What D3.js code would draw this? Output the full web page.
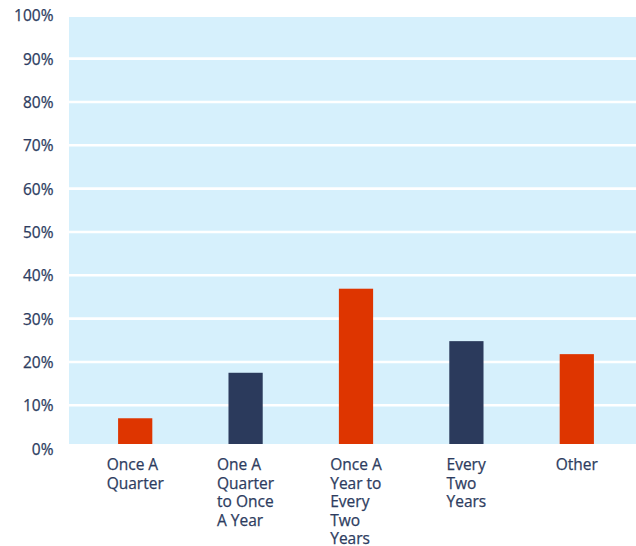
<!DOCTYPE html>
<html>
<head>
<meta charset="utf-8">
<script src="https://cdn.jsdelivr.net/npm/d3@7"></script>
<style>
  html, body { margin: 0; padding: 0; background: #ffffff; }
  svg { display: block; }
  text { font-family: "Open Sans", "Noto Sans", sans-serif; fill: #2d3c60; stroke: #2d3c60; stroke-width: 0.25px; }
</style>
</head>
<body>
<svg id="chart" width="636" height="546"></svg>
<script>
const categories = [
  ["Once A", "Quarter"],
  ["One A", "Quarter", "to Once", "A Year"],
  ["Once A", "Year to", "Every", "Two", "Years"],
  ["Every", "Two", "Years"],
  ["Other"]
];
const categoryKeys = ["q", "qy", "y2", "2y", "other"];
const values = [7, 17.5, 36.9, 24.8, 21.8];
const barColors = ["#de3500", "#2b3a5c", "#de3500", "#2b3a5c", "#de3500"];
const tickValues = [0, 10, 20, 30, 40, 50, 60, 70, 80, 90, 100];

const svg = d3.select("#chart");

const y = d3.scaleLinear().domain([0, 100]).range([448.6, 15.3]);
const x = d3.scaleBand().domain(categoryKeys).range([80, 632]).paddingInner(0.69).paddingOuter(0.345);

const plotLeft = 69, plotRight = 636;

// background
svg.append("rect")
  .attr("x", plotLeft)
  .attr("y", y(100) + 1.7)
  .attr("width", plotRight - plotLeft)
  .attr("height", (y(0) - 4.6) - (y(100) + 1.7))
  .attr("fill", "#d6f0fc");

// gridlines
svg.append("g").selectAll("line")
  .data(tickValues.filter(v => v > 0 && v < 100))
  .join("line")
  .attr("x1", plotLeft).attr("x2", plotRight)
  .attr("y1", d => y(d)).attr("y2", d => y(d))
  .attr("stroke", "#ffffff").attr("stroke-width", 2.6);

// bars
svg.append("g").selectAll("rect")
  .data(values)
  .join("rect")
  .attr("x", (d, i) => x(categoryKeys[i]))
  .attr("width", x.bandwidth())
  .attr("y", d => y(d))
  .attr("height", d => (y(0) - 4.6) - y(d))
  .attr("fill", (d, i) => barColors[i]);

// y axis
const yAxis = d3.axisLeft(y).tickValues(tickValues).tickFormat(d => d + "%").tickSize(0).tickPadding(0);
const gy = svg.append("g").attr("transform", "translate(53.5,0)").call(yAxis);
gy.select(".domain").remove();
gy.selectAll("text")
  .attr("font-family", '"Open Sans", "Noto Sans", sans-serif')
  .attr("font-size", 15.5)
  .attr("fill", "#2d3c60")
  .attr("dy", "0.36em");

// x labels: left-aligned lines, block centered on band
const xl = svg.append("g");
categories.forEach((lines, i) => {
  const cx = x(categoryKeys[i]) + x.bandwidth() / 2;
  const t = xl.append("text")
    .attr("font-size", 15.5)
    .attr("text-anchor", "start");
  lines.forEach((ln, j) => {
    t.append("tspan").attr("y", 470.3 + j * 18.5).text(ln);
  });
  let maxW = 0;
  t.selectAll("tspan").each(function() { maxW = Math.max(maxW, this.getComputedTextLength()); });
  t.selectAll("tspan").attr("x", cx - maxW / 2);
});
</script>
</body>
</html>
